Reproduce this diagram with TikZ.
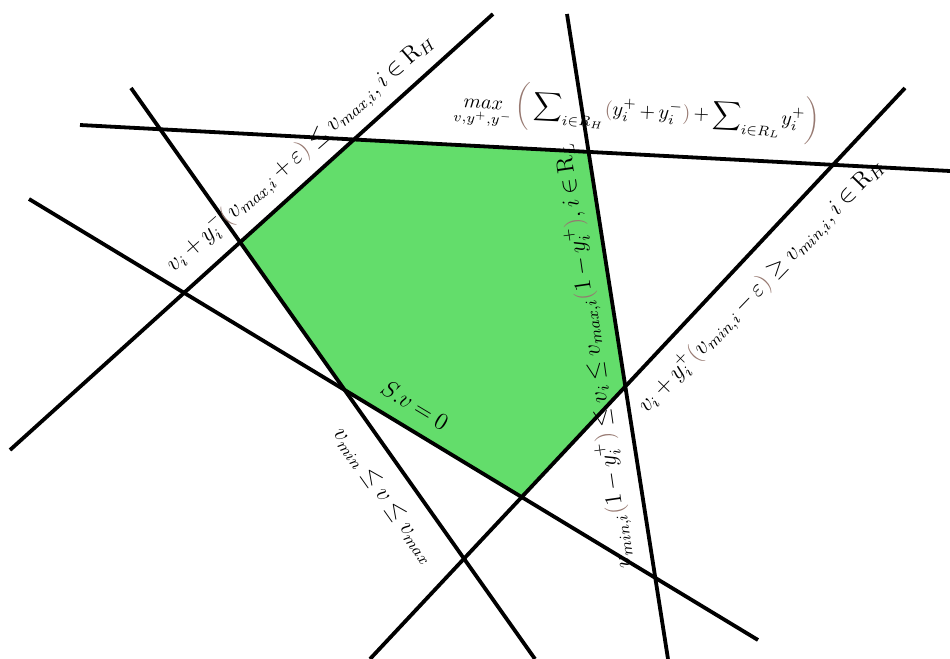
\documentclass[tikz,border=0pt]{standalone}
\usepackage{amsmath}
\usepackage{xcolor}
\definecolor{feasgreen}{RGB}{99,221,107}
\definecolor{parbrown}{RGB}{150,120,112}

\begin{document}
\begin{tikzpicture}[
    x=0.5pt, y=-0.5pt,
    cline/.style={black, line width=1.9pt},
    feas/.style={fill=feasgreen},
    eqn/.style={font=\fontsize{12}{14}\selectfont, inner sep=0pt,
                execute at begin node={\medmuskip=3mu\thickmuskip=4mu\relax}}
]
\useasboundingbox (0,0) rectangle (950,659);

% ---------- end points of the constraint lines ----------
\coordinate (obj1) at (80,125);   \coordinate (obj2) at (950,171);
\coordinate (vmx1) at (10,450);   \coordinate (vmx2) at (493,14);
\coordinate (rl1)  at (668,659);  \coordinate (rl2)  at (567,14);
\coordinate (vmn1) at (370,659);  \coordinate (vmn2) at (905,88);
\coordinate (sv1)  at (29,199);   \coordinate (sv2)  at (758,640);
\coordinate (bnd1) at (131,88);   \coordinate (bnd2) at (535,659);

% ---------- feasible region ----------
\fill[feas] (intersection of obj1--obj2 and vmx1--vmx2)
  -- (intersection of obj1--obj2 and rl1--rl2)
  -- (intersection of rl1--rl2 and vmn1--vmn2)
  -- (intersection of vmn1--vmn2 and sv1--sv2)
  -- (intersection of sv1--sv2 and bnd1--bnd2)
  -- (intersection of bnd1--bnd2 and vmx1--vmx2) -- cycle;

% ---------- constraint lines ----------
\foreach \l in {obj,vmx,rl,vmn,sv,bnd}
  \draw[cline] (\l1) -- (\l2);

% ---------- labels ----------
\node[eqn, font=\fontsize{10.3}{13}\selectfont, rotate=-3] (objlbl) at (637,112)
  {$\mathop{max}\limits_{v,y^+,y^-}\textcolor{parbrown}{\biggl(}\displaystyle\sum\nolimits_{i\in R_H}\!\textcolor{parbrown}{(}y_i^+ + y_i^-\textcolor{parbrown}{)} + \sum\nolimits_{i\in R_L}\! y_i^+\textcolor{parbrown}{\biggr)}$};
\node[eqn, rotate=41.3] (vmxlbl) at (300,153)
  {$v_i + y_i^-\textcolor{parbrown}{(}v_{max,i}+\varepsilon\textcolor{parbrown}{)} \leq v_{max,i}, i \in \mathrm{R}_H$};
\node[eqn, rotate=98.2] (rllbl) at (594,356)
  {$v_{min,i}\textcolor{parbrown}{(}1-y_i^+\textcolor{parbrown}{)} \leq v_i \leq v_{max,i}\textcolor{parbrown}{(}1-y_i^+\textcolor{parbrown}{)}, i \in \mathrm{R}_L$};
\node[eqn, rotate=46] (vmnlbl) at (761,286)
  {$v_i + y_i^+\textcolor{parbrown}{(}v_{min,i}-\varepsilon\textcolor{parbrown}{)} \geq v_{min,i}, i \in \mathrm{R}_H$};
\node[eqn, rotate=-31] (svlbl) at (415,405) {$S.v = 0$};
\node[eqn, rotate=-54.7] (bndlbl) at (384,496) {$v_{min} \leq v \leq v_{max}$};

\end{tikzpicture}
\end{document}
